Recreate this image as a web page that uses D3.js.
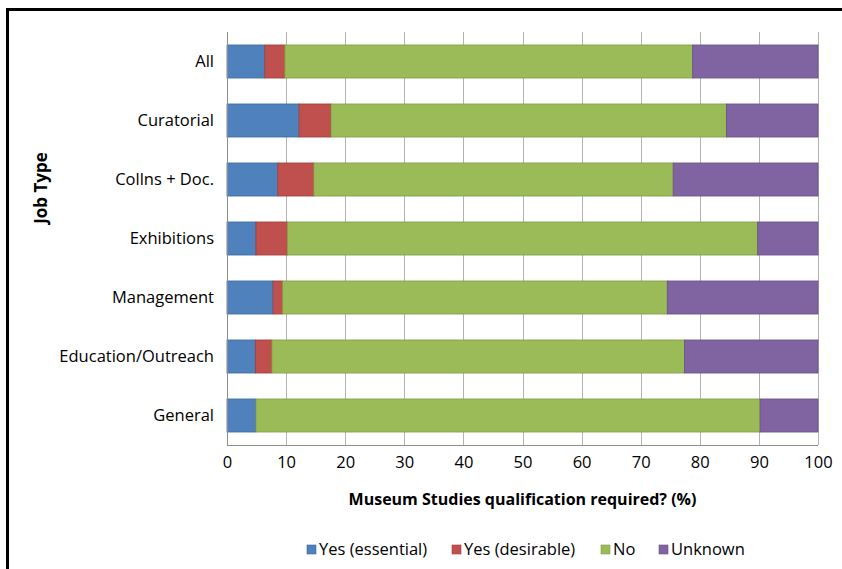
<!DOCTYPE html>
<html>
<head>
<meta charset="utf-8">
<script src="https://cdn.jsdelivr.net/npm/d3@7"></script>
<style>
  body { margin: 0; background: #fff; }
  svg { display: block; font-family: "Open Sans", sans-serif; }
</style>
</head>
<body>
<svg id="chart" width="842" height="569"></svg>
<script>
// job types, top to bottom
const jobTypes = ['All', 'Curatorial', 'Collns + Doc.', 'Exhibitions', 'Management', 'Education/Outreach', 'General'];

// percentages per series, same order as jobTypes
const yesEssential = [6.4, 12.2, 8.6, 4.9, 7.8, 4.8, 4.9];
const yesDesirable = [3.4, 5.4, 6.1, 5.3, 1.6, 2.8, 0];
const no = [69.0, 66.9, 60.8, 79.6, 65.1, 69.8, 85.3];
const unknown = [21.2, 15.5, 24.5, 10.2, 25.5, 22.6, 9.8];

const seriesNames = ['Yes (essential)', 'Yes (desirable)', 'No', 'Unknown'];
const xTicks = [0, 10, 20, 30, 40, 50, 60, 70, 80, 90, 100];

const colors = ['#4f81bd', '#c0504d', '#9bbb59', '#8064a2'];
const strokes = ['#3c6a9f', '#a03d3a', '#7f9c44', '#67508a'];

const fontFamily = '"Open Sans", sans-serif';
const fontSize = 16.5;

const margin = { top: 32, right: 24, bottom: 124, left: 227 };
const width = 842 - margin.left - margin.right;
const height = 569 - margin.top - margin.bottom;

const svg = d3.select('#chart');

// outer frame (only top and left visible in the crop)
svg.append('rect')
    .attr('x', 7.5)
    .attr('y', 9.5)
    .attr('width', 900)
    .attr('height', 700)
    .attr('fill', 'none')
    .attr('stroke', '#000')
    .attr('stroke-width', 3);

const g = svg.append('g')
    .attr('transform', `translate(${margin.left},${margin.top})`);

const x = d3.scaleLinear().domain([0, 100]).range([0, width]);
const y = d3.scaleBand().domain(jobTypes).range([0, height])
    .paddingInner(0.44).paddingOuter(0.22);

// build rows for stacking
const rows = jobTypes.map((job, i) => ({
    job: job,
    'Yes (essential)': yesEssential[i],
    'Yes (desirable)': yesDesirable[i],
    'No': no[i],
    'Unknown': unknown[i]
}));
const stacked = d3.stack().keys(seriesNames)(rows);

// vertical gridlines
g.append('g')
    .selectAll('line')
    .data(xTicks)
    .enter()
    .append('line')
    .attr('x1', d => Math.round(x(d)) + 0.5)
    .attr('x2', d => Math.round(x(d)) + 0.5)
    .attr('y1', 0)
    .attr('y2', height)
    .attr('stroke', '#b3b3b3')
    .attr('stroke-width', 1);

// bars
stacked.forEach((layer, si) => {
    g.append('g')
        .selectAll('rect')
        .data(layer.filter(d => d[1] - d[0] > 0))
        .enter()
        .append('rect')
        .attr('x', d => x(d[0]))
        .attr('y', d => y(d.data.job))
        .attr('width', d => x(d[1]) - x(d[0]))
        .attr('height', y.bandwidth())
        .attr('fill', colors[si])
        .attr('stroke', strokes[si])
        .attr('stroke-width', 0.8);
});

// axes lines
g.append('line')
    .attr('x1', 0.5).attr('x2', 0.5)
    .attr('y1', 0).attr('y2', height)
    .attr('stroke', '#8c8c8c');
g.append('line')
    .attr('x1', 0).attr('x2', width)
    .attr('y1', height + 0.5).attr('y2', height + 0.5)
    .attr('stroke', '#8c8c8c');

// x axis tick labels
const xAxis = d3.axisBottom(x).tickValues(xTicks).tickSize(0).tickPadding(11);
const xg = g.append('g')
    .attr('transform', `translate(0,${height})`)
    .call(xAxis);
xg.select('.domain').remove();
xg.selectAll('text')
    .attr('font-size', fontSize)
    .attr('font-family', fontFamily)
    .attr('fill', '#000');

// y axis category labels
const yAxis = d3.axisLeft(y).tickSize(0).tickPadding(13);
const yg = g.append('g').call(yAxis);
yg.select('.domain').remove();
yg.selectAll('text')
    .attr('font-size', fontSize)
    .attr('font-family', fontFamily)
    .attr('fill', '#000');

// axis titles
svg.append('text')
    .attr('x', margin.left + width / 2)
    .attr('y', 505)
    .attr('text-anchor', 'middle')
    .attr('font-size', 16)
    .attr('font-weight', 'bold')
    .text('Museum Studies qualification required? (%)');

svg.append('text')
    .attr('transform', 'translate(47,188) rotate(-90)')
    .attr('text-anchor', 'middle')
    .attr('font-size', 17)
    .attr('font-weight', 'bold')
    .text('Job Type');

// legend
const legendX = [307, 452, 601, 659];
const legend = svg.append('g');
seriesNames.forEach((name, i) => {
    const item = legend.append('g').attr('transform', `translate(${legendX[i]},545)`);
    item.append('rect')
        .attr('width', 9)
        .attr('height', 9)
        .attr('fill', colors[i])
        .attr('stroke', strokes[i])
        .attr('stroke-width', 0.6);
    item.append('text')
        .attr('x', 12)
        .attr('y', 9.5)
        .attr('font-size', fontSize)
        .text(name);
});
</script>
</body>
</html>
